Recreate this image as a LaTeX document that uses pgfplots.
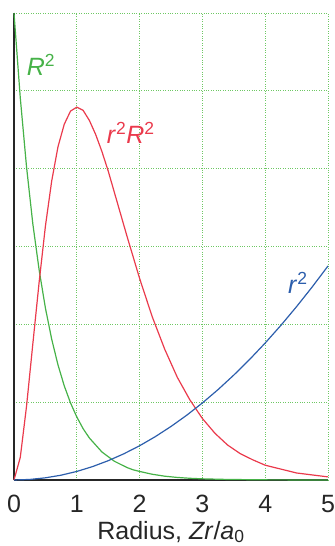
\documentclass[border=0pt]{standalone}
\usepackage{fontspec}
\setmainfont{Liberation Sans}
\usepackage{pgfplots}
\pgfplotsset{compat=1.18}
\definecolor{cGreen}{RGB}{70,178,72}
\definecolor{cRed}{RGB}{234,58,76}
\definecolor{cBlue}{RGB}{44,94,172}
\definecolor{cGrid}{RGB}{110,200,100}

\begin{document}
\begin{tikzpicture}
\begin{axis}[
  scale only axis, width=314pt, height=467pt,
  xmin=0, xmax=5, ymin=0, ymax=6,
  xtick={0,1,2,3,4,5}, ytick={0,1,2,3,4,5,6},
  yticklabels={},
  axis x line=bottom, axis y line=left,
  axis line style={-, black!85, line width=1.8pt},
  major tick length=0pt,
  grid=major, grid style={cGrid, dotted, line width=0.9pt},
  /pgf/number format/assume math mode=true,
  tick label style={font=\fontsize{25}{28}\selectfont, text=black!85},
  xticklabel style={anchor=base, yshift=-32pt},
  xlabel={Radius, \textit{Zr}/\textit{a}\textsubscript{0}},
  xlabel style={font=\fontsize{25}{28}\selectfont, text=black!85,
    at={(axis description cs:0.5,0)}, anchor=base, yshift=-59pt},
  clip=false,
]
% R^2
\addplot[cGreen, line width=1.2pt] coordinates {
  (0,6) (0.1,4.91) (0.2,4.02) (0.3,3.29) (0.4,2.70) (0.5,2.21) (0.6,1.81)
  (0.7,1.48) (0.8,1.21) (0.9,0.99) (1.0,0.81) (1.1,0.66) (1.2,0.54)
  (1.3,0.45) (1.4,0.36) (1.5,0.30) (1.6,0.24) (1.7,0.20) (1.8,0.16)
  (1.9,0.13) (2.0,0.11) (2.2,0.074) (2.4,0.049) (2.6,0.033) (2.8,0.022)
  (3.0,0.015) (3.4,0.007) (4.0,0.002) (5.0,0.0)
};
% r^2 R^2
\addplot[cRed, line width=1.2pt] coordinates {
  (0,0) (0.1,0.29) (0.2,0.95) (0.3,1.75) (0.4,2.54) (0.5,3.26) (0.6,3.84)
  (0.7,4.28) (0.8,4.57) (0.9,4.74) (1.0,4.79) (1.1,4.75) (1.2,4.62)
  (1.3,4.44) (1.4,4.22) (1.5,3.97) (1.6,3.69) (1.7,3.41) (1.8,3.13)
  (1.9,2.86) (2.0,2.59) (2.2,2.10) (2.4,1.68) (2.6,1.32) (2.8,1.03)
  (3.0,0.79) (3.2,0.60) (3.4,0.45) (3.6,0.34) (3.8,0.26) (4.0,0.19)
  (4.5,0.09) (5.0,0.04)
};
% r^2
\addplot[cBlue, line width=1.2pt] coordinates {
  (0,0) (0.25,0.007) (0.5,0.028) (0.75,0.062) (1.0,0.11) (1.25,0.172)
  (1.5,0.248) (1.75,0.337) (2.0,0.44) (2.25,0.557) (2.5,0.688) (2.75,0.832)
  (3.0,0.99) (3.25,1.162) (3.5,1.348) (3.75,1.547) (4.0,1.76) (4.25,1.987)
  (4.5,2.228) (4.75,2.482) (5.0,2.75)
};
\node[text=cGreen, font=\fontsize{25}{28}\selectfont] at (axis cs:0.43,5.33) {\textit{R}\textsuperscript{2}};
\node[text=cRed, font=\fontsize{25}{28}\selectfont] at (axis cs:1.86,4.46) {\textit{r}\textsuperscript{2}\textit{R}\textsuperscript{2}};
\node[text=cBlue, font=\fontsize{25}{28}\selectfont] at (axis cs:4.52,2.53) {\textit{r}\textsuperscript{2}};
\end{axis}
\pgfresetboundingbox
\path ([shift={(-14pt,-66pt)}]current axis.south west) rectangle ([shift={(7pt,13pt)}]current axis.north east);
\end{tikzpicture}
\end{document}
